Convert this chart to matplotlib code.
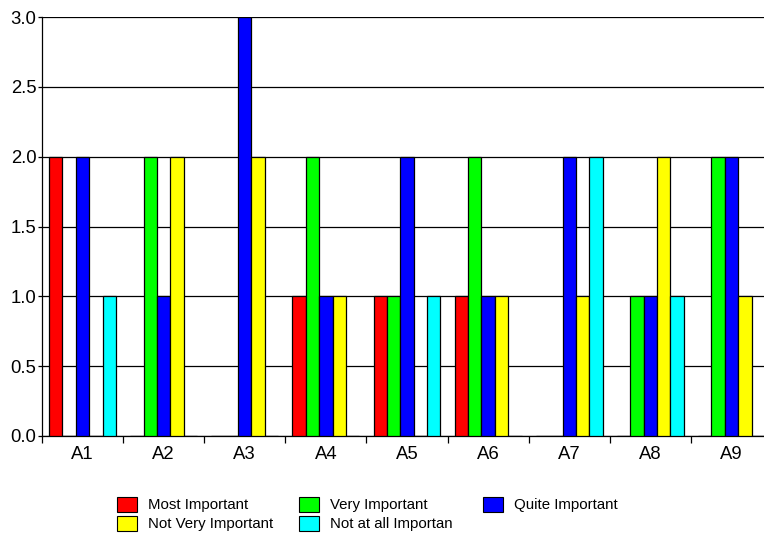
import matplotlib
matplotlib.use("Agg")
import matplotlib.pyplot as plt
from matplotlib.patches import Rectangle
from matplotlib import font_manager
import numpy as np

categories = ["A1", "A2", "A3", "A4", "A5", "A6", "A7", "A8", "A9"]
series_names = ["Most Important", "Very Important", "Quite Important",
                "Not Very Important", "Not at all Importan"]
most_important = [2, 0, 0, 1, 1, 1, 0, 0, 0]
very_important = [0, 2, 0, 2, 1, 2, 0, 1, 2]
quite_important = [2, 1, 3, 1, 2, 1, 2, 1, 2]
not_very_important = [0, 2, 2, 1, 0, 1, 1, 2, 1]
not_at_all_important = [1, 0, 0, 0, 1, 0, 2, 1, 0]
series_values = [most_important, very_important, quite_important,
                 not_very_important, not_at_all_important]
colors = ["#ff0000", "#00ff00", "#0000ff", "#ffff00", "#00ffff"]
yticks = [0.0, 0.5, 1.0, 1.5, 2.0, 2.5, 3.0]
ytick_labels = ["0.0", "0.5", "1.0", "1.5", "2.0", "2.5", "3.0"]

names = {f.name for f in font_manager.fontManager.ttflist}
base_font = "Liberation Sans" if "Liberation Sans" in names else "DejaVu Sans"
narrow_font = "Liberation Sans Narrow" if "Liberation Sans Narrow" in names else base_font
legend_size = 12 if narrow_font != base_font else 10.8
plt.rcParams['font.family'] = [base_font, 'DejaVu Sans']

W, H = 764, 557
fig = plt.figure(figsize=(W / 100, H / 100), dpi=100)
ax = fig.add_axes([42 / W, 1 - 436 / H, (772 - 42) / W, (436 - 17) / H])

n = len(series_names)
bw = 0.165
x = np.arange(len(categories))
for i, (vals, c) in enumerate(zip(series_values, colors)):
    offs = (i - (n - 1) / 2) * bw
    ax.bar(x + offs, vals, width=bw, color=c, edgecolor="black",
           linewidth=0.9, zorder=3)

ax.set_xlim(-0.5, len(categories) - 0.5)
ax.set_ylim(0, 3.0)
ax.set_yticks(yticks)
ax.set_yticklabels(ytick_labels, fontsize=13.3)
ax.yaxis.grid(True, color="black", linewidth=0.9, zorder=1)
ax.set_axisbelow(True)
ax.tick_params(axis="y", length=3, width=0.9, pad=1, colors="black")

ax.set_xticks(x)
ax.set_xticklabels(categories, fontsize=13.3)
ax.tick_params(axis="x", which="major", length=0, pad=7)
ax.set_xticks(np.arange(len(categories) + 1) - 0.5, minor=True)
ax.tick_params(axis="x", which="minor", length=5, width=0.9, direction="out")

for s in ["top", "right"]:
    ax.spines[s].set_visible(False)
ax.spines["left"].set_linewidth(0.9)
ax.spines["bottom"].set_linewidth(0.9)

# legend (manual layout below the plot)
entries = [
    (0, 117, 497), (1, 299, 497), (2, 483, 497),
    (3, 117, 516), (4, 299, 516),
]
for idx, px, py in entries:
    fig.add_artist(Rectangle((px / W, 1 - (py + 15) / H), 20 / W, 15 / H,
                             transform=fig.transFigure, facecolor=colors[idx],
                             edgecolor="black", linewidth=0.8))
    fig.text((px + 31) / W, 1 - (py + 8) / H, series_names[idx],
             fontsize=legend_size, family=[narrow_font, 'DejaVu Sans'],
             va="center", ha="left")

fig.savefig("out.png", dpi=100)
